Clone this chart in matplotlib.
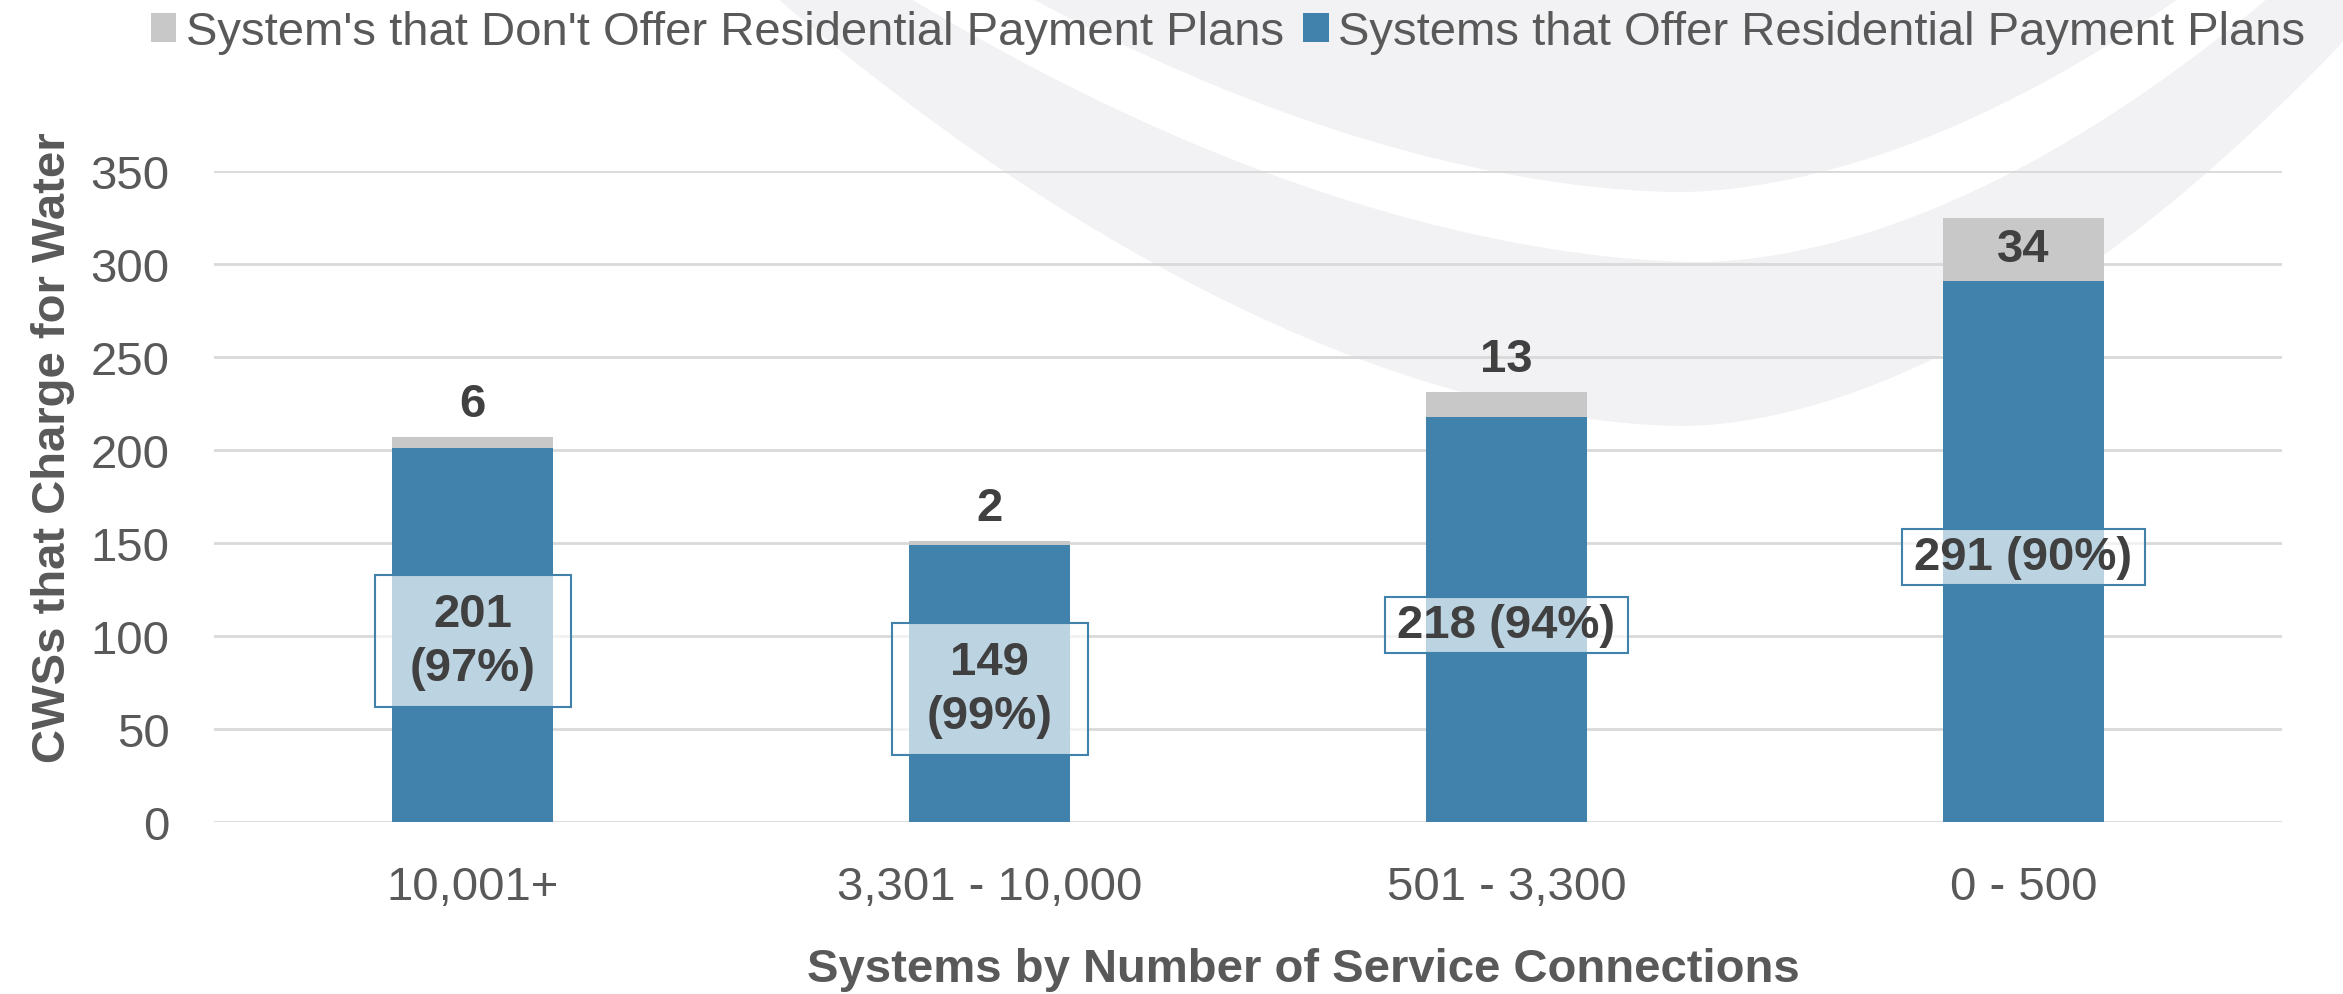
import matplotlib
matplotlib.use("Agg")
from matplotlib import pyplot as plt
from matplotlib import patches
import numpy as np

# Data
categories = ["10,001+", "3,301 - 10,000", "501 - 3,300", "0 - 500"]
offer_plans = [201, 149, 218, 291]
no_plans = [6, 2, 13, 34]
label_breaks = ["\n", "\n", " ", " "]
y_ticks = [0, 50, 100, 150, 200, 250, 300, 350]

legend_no = "System's that Don't Offer Residential Payment Plans"
legend_yes = "Systems that Offer Residential Payment Plans"
x_title = "Systems by Number of Service Connections"
y_title = "CWSs that Charge for Water"

blue = "#4182ad"
grey = "#c8c8c8"
text_grey = "#595959"
dark = "#404040"
fs = 34

plt.rcParams["font.family"] = ["Liberation Sans", "DejaVu Sans"]

fig = plt.figure(figsize=(23.43, 9.95), dpi=100)

# faint U shaped watermark in the background (pixel space)
bg = fig.add_axes([0, 0, 1, 1], zorder=-1)
bg.set_xlim(0, 2343)
bg.set_ylim(995, 0)
bg.axis("off")


def u_shape(vx, vy, left_dx, right_dx, top, color):
    # curve through the vertex, reaching y=top at vx-left_dx and vx+right_dx
    dx = np.linspace(-left_dx * 1.3, right_dx * 1.3, 400)
    kl = (vy - top) / left_dx ** 1.8
    kr = (vy - top) / right_dx ** 1.8
    y = np.where(dx < 0, vy - kl * np.abs(dx) ** 1.8, vy - kr * np.abs(dx) ** 1.8)
    pts = np.column_stack([vx + dx, y])
    pts = np.vstack([pts, [[vx + right_dx * 1.3, -600], [vx - left_dx * 1.3, -600]]])
    bg.add_patch(patches.Polygon(pts, closed=True, color=color, lw=0))


u_shape(1683, 427, 905, 700, 0, "#f2f2f4")
u_shape(1700, 263, 789, 567, 0, "white")
u_shape(1680, 193, 647, 498, 0, "#f2f2f4")

ax = fig.add_axes([214 / 2343, 1 - 823 / 995, (2282 - 214) / 2343, (823 - 172) / 995])
ax.set_facecolor("none")

x = list(range(len(categories)))
width = 0.313
totals = [a + b for a, b in zip(offer_plans, no_plans)]
b1 = ax.bar(x, offer_plans, width, color=blue, label=legend_yes, zorder=3)
b2 = ax.bar(x, no_plans, width, bottom=offer_plans, color=grey, label=legend_no, zorder=3)

ax.set_xlim(-0.5, len(categories) - 0.5)
ax.set_ylim(0, 350)
ax.set_yticks(y_ticks)
ax.set_xticks(x)
ax.set_xticklabels(categories)
ax.tick_params(axis="both", length=0, labelsize=fs, labelcolor=text_grey)
ax.tick_params(axis="x", pad=31)
ax.tick_params(axis="y", pad=32)
ax.grid(axis="y", color="#d9d9d9", linewidth=2, zorder=0)
for s in ax.spines.values():
    s.set_visible(False)

# labels for the grey segment: above small ones, inside the big one
for i in x:
    if no_plans[i] >= 20:
        ax.text(i, offer_plans[i] + no_plans[i] / 2, str(no_plans[i]), ha="center", va="center",
                fontsize=fs, fontweight="bold", color=dark, zorder=6)
    else:
        ax.text(i, totals[i] + 6, str(no_plans[i]), ha="center", va="bottom",
                fontsize=fs, fontweight="bold", color=dark, zorder=6)

# labels for the blue segment with count and share
blue_labels = []
for i in x:
    pct = round(100 * offer_plans[i] / totals[i])
    txt = f"{offer_plans[i]}{label_breaks[i]}({pct}%)"
    t = ax.text(i, offer_plans[i] / 2 - 3, txt, ha="center", va="center", fontsize=fs,
                fontweight="bold", color=dark, linespacing=1.3, zorder=6)
    blue_labels.append(t)

ax.set_xlabel(x_title, fontsize=fs, fontweight="bold", color=text_grey, va="center")
ax.xaxis.set_label_coords(0.527, -0.226)
ax.set_ylabel(y_title, fontsize=fs, fontweight="bold", color=text_grey)
ax.yaxis.set_label_coords(-0.067, 0.576)

fig.legend(handles=[b2, b1], labels=[legend_no, legend_yes], loc="center",
           bbox_to_anchor=(1228 / 2343, 1 - 33 / 995), ncol=2, frameon=False,
           fontsize=fs, labelcolor=text_grey, handlelength=0.55, handleheight=0.55,
           handletextpad=0.2, columnspacing=0.4, borderpad=0)

# boxes behind the blue labels, Excel style (min width, light fill, blue edge)
fig.canvas.draw()
inv = ax.transAxes.inverted()
for t in blue_labels:
    bb = t.get_window_extent()
    n_lines = t.get_text().count("\n") + 1
    w = max(bb.width + 24, 196)
    h = bb.height + 12 + 22 * (n_lines - 1)
    cx, cy = (bb.x0 + bb.x1) / 2, (bb.y0 + bb.y1) / 2
    (ax0, ay0), (ax1, ay1) = inv.transform([(cx - w / 2, cy - h / 2), (cx + w / 2, cy + h / 2)])
    ax.add_patch(patches.Rectangle((ax0, ay0), ax1 - ax0, ay1 - ay0, transform=ax.transAxes,
                                   facecolor="white", alpha=0.65, edgecolor="none", zorder=4))
    ax.add_patch(patches.Rectangle((ax0, ay0), ax1 - ax0, ay1 - ay0, transform=ax.transAxes,
                                   facecolor="none", edgecolor=blue, linewidth=1.5, zorder=5))

fig.savefig("out.png", dpi=100)
